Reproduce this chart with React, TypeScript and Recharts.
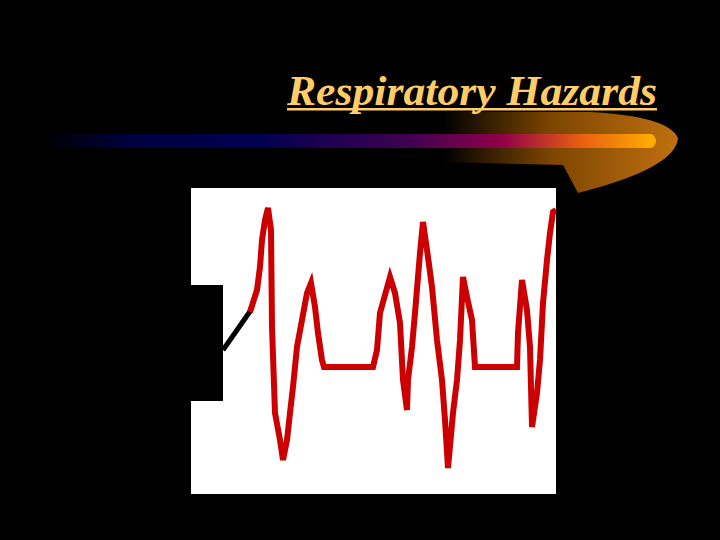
import React from "react";
import { LineChart, Line, XAxis, YAxis, ReferenceArea } from "recharts";

const times = [59, 66, 69, 71, 74, 77, 80, 81, 84, 89, 92, 96, 99, 102, 106, 111, 116, 120, 124, 127, 131, 133, 182, 186, 189, 194, 199, 204, 209, 212, 216, 217, 221, 224, 229, 232, 237, 241, 246, 251, 254, 257, 262, 266, 269, 272, 276, 281, 284, 326, 327, 331, 336, 339, 341, 346, 349, 352, 356, 359, 362, 365];
const amplitudes = [55, 77, 100, 127, 147, 159, 137, 40, -46, -73, -93, -73, -46, -20, 20, 47, 74, 84, 60, 34, 7, 0, 0, 17, 54, 72, 90, 74, 44, -13, -43, -13, 20, 54, 114, 145, 110, 80, 27, -13, -53, -101, -46, -13, 27, 90, 70, 47, 0, 0, 34, 87, 57, 20, -60, -26, 7, 64, 107, 134, 155, 157];

const leadTimes = [32, 60];
const leadAmps = [17, 57];

const title = "Respiratory Hazards";

const wave = times.map((t, i) => ({ t, v: amplitudes[i] }));
const lead = leadTimes.map((t, i) => ({ t, v: leadAmps[i] }));

export default function App() {
  return (
    <div style={{ position: "absolute", left: 0, top: 0, width: 720, height: 540, background: "#000", overflow: "hidden" }}>
      <svg width={720} height={540} style={{ position: "absolute", left: 0, top: 0 }}>
        <defs>
          <linearGradient id="bar" x1="0" x2="1" y1="0" y2="0">
            <stop offset="0" stopColor="#000000" />
            <stop offset="0.15" stopColor="#000040" />
            <stop offset="0.35" stopColor="#000050" />
            <stop offset="0.6" stopColor="#400050" />
            <stop offset="0.75" stopColor="#900048" />
            <stop offset="0.88" stopColor="#e86010" />
            <stop offset="1" stopColor="#ffb000" />
          </linearGradient>
          <linearGradient id="swoosh" x1="0" x2="1" y1="0" y2="0">
            <stop offset="0" stopColor="#000000" />
            <stop offset="0.45" stopColor="#7a4400" />
            <stop offset="1" stopColor="#c07010" />
          </linearGradient>
        </defs>
        <path d="M 443 112 L 590 112 Q 668 116 678 138 Q 676 168 578 193 L 563 165 L 443 162 Z" fill="url(#swoosh)" />
        <path d="M 40 134 L 652 134 Q 660 141 652 148 L 40 148 Z" fill="url(#bar)" />
        <text x={657} y={105} textAnchor="end" fill="#ffcc66" fontFamily="'Liberation Serif', 'Times New Roman', serif" fontStyle="italic" fontWeight="bold" fontSize={43} textLength={370} lengthAdjust="spacingAndGlyphs">{title}</text>
        <rect x={287} y={108} width={370} height={2.5} fill="#ffcc66" />
      </svg>
      <div style={{ position: "absolute", left: 0, top: 0 }}>
        <LineChart width={720} height={540} margin={{ left: 191, right: 164, top: 188, bottom: 46 }}>
          <XAxis type="number" dataKey="t" domain={[0, 365]} hide allowDataOverflow />
          <YAxis type="number" dataKey="v" domain={[-127, 179]} hide allowDataOverflow />
          <ReferenceArea x1={0} x2={365} y1={-127} y2={179} fill="#ffffff" fillOpacity={1} stroke="none" />
          <ReferenceArea x1={0} x2={32} y1={-34} y2={82} fill="#000000" fillOpacity={1} stroke="none" />
          <Line data={lead} dataKey="v" stroke="#000000" strokeWidth={5} dot={false} isAnimationActive={false} type="linear" />
          <Line data={wave} dataKey="v" stroke="#cc0000" strokeWidth={6} dot={false} isAnimationActive={false} type="linear" strokeLinejoin="miter" />
        </LineChart>
      </div>
    </div>
  );
}
